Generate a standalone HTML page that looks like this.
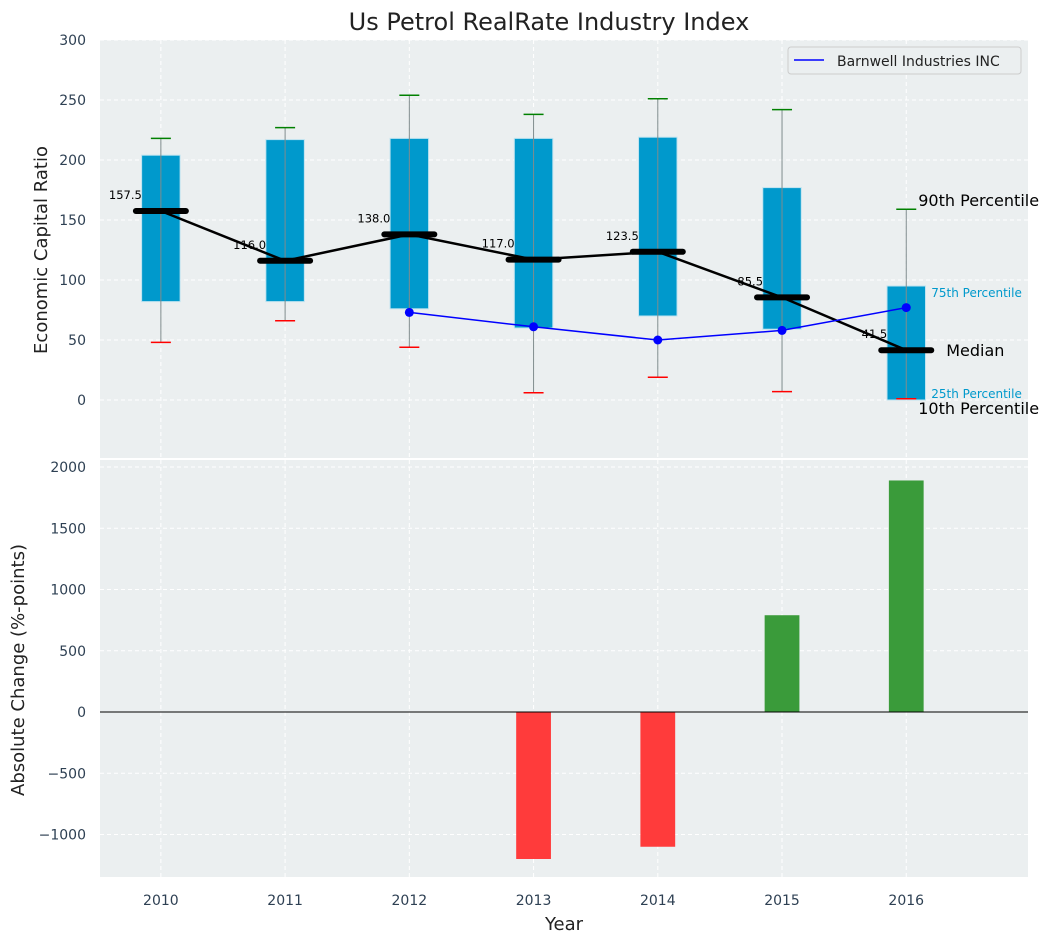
<!DOCTYPE html>
<html><head><meta charset="utf-8"><style>
body{margin:0;background:#fff;font-family:"Liberation Sans","DejaVu Sans",sans-serif}
svg text{font-family:"DejaVu Sans","Liberation Sans",sans-serif}
</style></head><body>
<svg id="c" width="1053" height="942" xmlns="http://www.w3.org/2000/svg"></svg>
<script>
const years=[2010,2011,2012,2013,2014,2015,2016];
const p10=[48,66,44,6,19,7,1];
const q1=[82,82,76,60,70,59,0];
const med=[157.5,116.0,138.0,117.0,123.5,85.5,41.5];
const q3=[204,217,218,218,219,177,95];
const p90=[218,227,254,238,251,242,159];
const barnYears=[2012,2013,2014,2015,2016];
const barnVals=[73,61,50,58,77];
const changeYears=[2013,2014,2015,2016];
const changeVals=[-1200,-1100,790,1890];
const topTicks=[0,50,100,150,200,250,300];
const botTicks=[-1000,-500,0,500,1000,1500,2000];

const NS="http://www.w3.org/2000/svg";
const svg=document.getElementById('c');
function el(t,a,txt){const e=document.createElementNS(NS,t);for(const k in a)e.setAttribute(k,a[k]);if(txt!=null)e.textContent=txt;svg.appendChild(e);return e;}
const L=100,R=1028;
const x=v=>L+(v-2009.51)/(2016.98-2009.51)*(R-L);
const yT=v=>400-v*1.2;
const yB=v=>712-v*0.1225;
const pw=124.17;

let e=el('rect',{x:L,y:40,width:R-L,height:418,fill:'#ebeff0'});

e=el('rect',{x:L,y:460,width:R-L,height:417,fill:'#ebeff0'});

years.forEach(yr=>{
 e=el('line',{x1:x(yr),x2:x(yr),y1:40,y2:458,stroke:'#fff','stroke-dasharray':'4,3','stroke-width':1});
 
 e=el('line',{x1:x(yr),x2:x(yr),y1:460,y2:877,stroke:'#fff','stroke-dasharray':'4,3','stroke-width':1});
 
 e=el('text',{x:x(yr),y:905,'text-anchor':'middle','font-size':14,fill:'#2e4053'},yr);
 
});
topTicks.forEach(t=>{
 e=el('line',{x1:L,x2:R,y1:yT(t),y2:yT(t),stroke:'#fff','stroke-dasharray':'4,3'});
 
 e=el('text',{x:86,y:yT(t)+5,'text-anchor':'end','font-size':14,fill:'#2e4053'},t);
 
});
botTicks.forEach(t=>{
 if(t!==0){e=el('line',{x1:L,x2:R,y1:yB(t),y2:yB(t),stroke:'#fff','stroke-dasharray':'4,3'});
 }
 e=el('text',{x:86,y:yB(t)+5,'text-anchor':'end','font-size':14,fill:'#2e4053'},t===0?'0':(t<0?'\u2212'+(-t):t));
 
});
years.forEach((yr,i)=>{
 const cx=x(yr);
 e=el('rect',{x:cx-0.155*pw,y:yT(q3[i]),width:0.31*pw,height:yT(q1[i])-yT(q3[i]),fill:'#0099cc',stroke:'#bfe3f0','stroke-width':1});
 
 e=el('line',{x1:cx,x2:cx,y1:yT(p10[i]),y2:yT(p90[i]),stroke:'#7f8c8d','stroke-width':1});
 
 e=el('line',{x1:cx-10,x2:cx+10,y1:yT(p90[i]),y2:yT(p90[i]),stroke:'green','stroke-width':1.5});
 
 e=el('line',{x1:cx-10,x2:cx+10,y1:yT(p10[i]),y2:yT(p10[i]),stroke:'red','stroke-width':1.5});
 
});
e=el('polyline',{points:years.map((yr,i)=>x(yr)+','+yT(med[i])).join(' '),fill:'none',stroke:'#000','stroke-width':2.5});

years.forEach((yr,i)=>{
 const cx=x(yr);
 e=el('line',{x1:cx-25,x2:cx+25,y1:yT(med[i]),y2:yT(med[i]),stroke:'#000','stroke-width':6,'stroke-linecap':'round'});
 
 e=el('text',{x:cx-19,y:yT(med[i])-12,'text-anchor':'end','font-size':11.5,fill:'#000'},med[i].toFixed(1));
 
});
e=el('polyline',{points:barnYears.map((yr,i)=>x(yr)+','+yT(barnVals[i])).join(' '),fill:'none',stroke:'blue','stroke-width':1.5});

barnYears.forEach((yr,i)=>{
 e=el('circle',{cx:x(yr),cy:yT(barnVals[i]),r:4.5,fill:'blue'});
 
});
const n=years.length-1,lx=x(years[n]);
[['90th Percentile',lx+12,yT(p90[n])-3,16,'#000'],['75th Percentile',lx+25,yT(q3[n])+11,12,'#0099cc'],['Median',lx+40,yT(med[n])+6,16,'#000'],['25th Percentile',lx+25,yT(q1[n])-2,12,'#0099cc'],['10th Percentile',lx+12,yT(p10[n])+15,16,'#000']].forEach(a=>{
 e=el('text',{x:a[1],y:a[2],'font-size':a[3],fill:a[4]},a[0]);
 
});
e=el('rect',{x:788,y:47,width:233,height:27,fill:'#ebeff0',stroke:'#ccc',rx:3});

e=el('line',{x1:794,x2:824,y1:60,y2:60,stroke:'blue','stroke-width':1.5});

e=el('text',{x:837,y:66,'font-size':14,fill:'#222'},'Barnwell Industries INC');

changeYears.forEach((yr,i)=>{
 const v=changeVals[i];
 e=el('rect',{x:x(yr)-0.14*pw,y:Math.min(yB(v),yB(0)),width:0.28*pw,height:Math.abs(yB(v)-yB(0)),fill:v<0?'#ff3b3b':'#3a9b3a'});
 
});
e=el('line',{x1:L,x2:R,y1:yB(0),y2:yB(0),stroke:'#000','stroke-width':1});

e=el('text',{x:549,y:30,'text-anchor':'middle','font-size':24,fill:'#222'},'Us Petrol RealRate Industry Index');

e=el('text',{x:564,y:930,'text-anchor':'middle','font-size':18,fill:'#222'},'Year');

e=el('text',{x:0,y:0,'text-anchor':'middle','font-size':18,fill:'#222',transform:'translate(47,250) rotate(-90)'},'Economic Capital Ratio');

e=el('text',{x:0,y:0,'text-anchor':'middle','font-size':18,fill:'#222',transform:'translate(24,670) rotate(-90)'},'Absolute Change (%-points)');

</script>
</body></html>
